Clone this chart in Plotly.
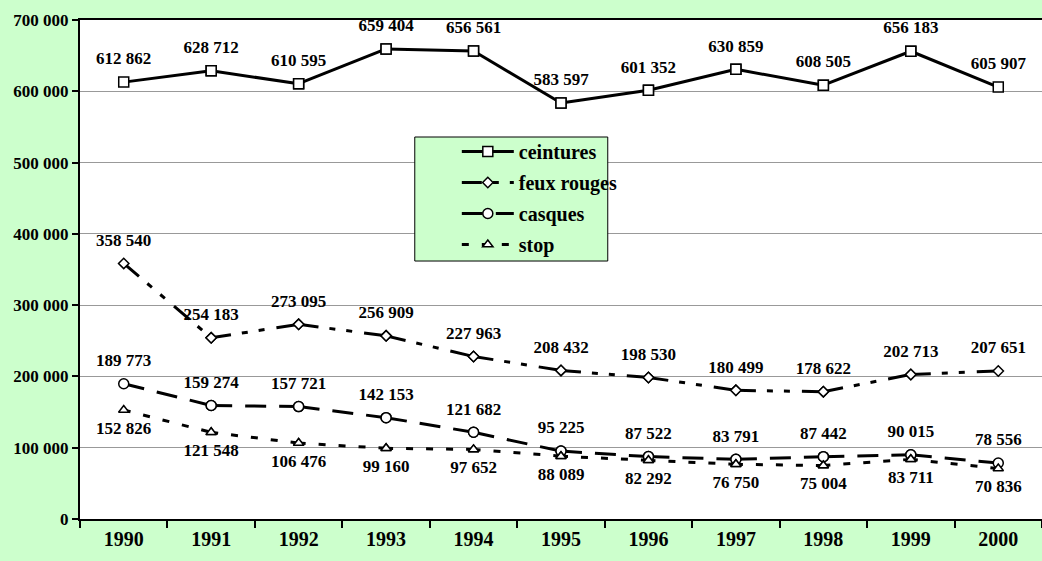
import plotly.graph_objects as go

years = ["1990", "1991", "1992", "1993", "1994", "1995", "1996", "1997", "1998", "1999", "2000"]
ceintures = [612862, 628712, 610595, 659404, 656561, 583597, 601352, 630859, 608505, 656183, 605907]
feux_rouges = [358540, 254183, 273095, 256909, 227963, 208432, 198530, 180499, 178622, 202713, 207651]
casques = [189773, 159274, 157721, 142153, 121682, 95225, 87522, 83791, 87442, 90015, 78556]
stop = [152826, 121548, 106476, 99160, 97652, 88089, 82292, 76750, 75004, 83711, 70836]

FONT = "Liberation Serif, Times New Roman, serif"
lbl = dict(family=FONT, size=17, color="black", weight="bold")

# name, values, dash, symbol, marker size, label position, label offset size
series = [
    ("ceintures", ceintures, "solid", "square", 10, "top center", 20),
    ("feux rouges", feux_rouges, "20px,11px,6px,11px,6px,12px", "diamond", 8, "top center", 20),
    ("casques", casques, "21px,13px", "circle", 10, "top center", 20),
    ("stop", stop, "7px,13px", "triangle-up", 9, "bottom center", 16),
]

fig = go.Figure()
for name, vals, dash, sym, size, pos, off in series:
    # one trace per segment so the dash pattern restarts at every point (as Excel does)
    for i in range(len(years) - 1):
        fig.add_trace(go.Scatter(
            x=years[i:i + 2], y=vals[i:i + 2], name=name, legendgroup=name,
            showlegend=(i == 0),
            mode="lines+markers",
            line=dict(color="black", width=3, dash=dash),
            marker=dict(symbol=sym, size=size, color="white",
                        line=dict(color="black", width=1.5)),
        ))
for name, vals, dash, sym, size, pos, off in series:
    # labels, pushed away from the points a little more
    fig.add_trace(go.Scatter(
        x=years, y=vals, showlegend=False, hoverinfo="skip",
        mode="markers+text",
        marker=dict(size=off, color="rgba(0,0,0,0)"),
        texttemplate="%{y:,}", textposition=pos, textfont=lbl,
        cliponaxis=False,
    ))

fig.add_shape(type="rect", xref="paper", yref="paper",
              x0=0.348, x1=0.5486, y0=0.517, y1=0.7655,
              fillcolor="#CCFFCC", line=dict(color="black", width=1),
              layer="above")

fig.update_layout(
    width=1042, height=561,
    margin=dict(l=80, r=0, t=20, b=42),
    paper_bgcolor="#CCFFCC",
    plot_bgcolor="white",
    separators=". ",
    font=dict(family=FONT, size=17, color="black", weight="bold"),
    showlegend=True,
    legend=dict(
        x=0.3917, y=0.7756, xanchor="left", yanchor="top",
        bgcolor="rgba(0,0,0,0)", borderwidth=0,
        font=dict(family=FONT, size=20, color="black", weight="bold"),
        tracegroupgap=2, itemwidth=52,
    ),
    xaxis=dict(
        type="category", range=[-0.5, 10.5],
        tickson="boundaries", ticks="outside", ticklen=7,
        tickwidth=1.5, tickcolor="black",
        showline=True, linecolor="black", linewidth=2, mirror=True,
        showgrid=False,
        tickfont=dict(family=FONT, size=20, color="black", weight="bold"),
        ticklabelstandoff=1,
    ),
    yaxis=dict(
        range=[0, 700000], dtick=100000, tickformat=",d",
        ticks="outside", ticklen=6, tickwidth=1.5, tickcolor="black",
        showline=True, linecolor="black", linewidth=2,
        showgrid=True, gridcolor="#999999", gridwidth=1,
        zeroline=False,
        tickfont=dict(family=FONT, size=17, color="black", weight="bold"),
    ),
)

fig.write_html("out.html", config={"displayModeBar": False},
               post_script="document.body.style.margin='0';")
